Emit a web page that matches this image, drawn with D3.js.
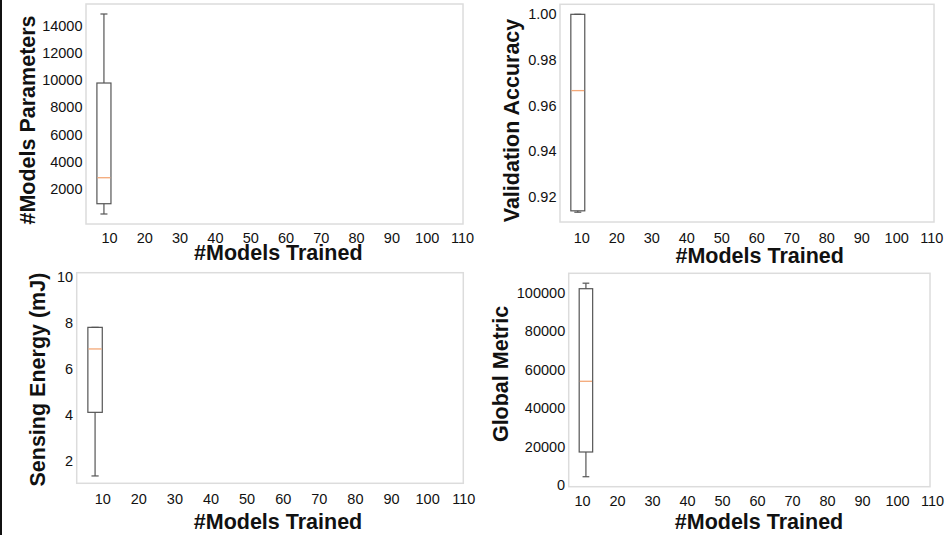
<!DOCTYPE html>
<html>
<head>
<meta charset="utf-8">
<script src="https://cdn.jsdelivr.net/npm/d3@7"></script>
<style>
  html, body { margin: 0; padding: 0; background: #fff; }
  svg { display: block; }
  text { font-family: "Liberation Sans", Arial, sans-serif; fill: #111; }
</style>
</head>
<body>
<svg id="chart" width="949" height="535"></svg>
<script>
// Number of models trained (x categories, shared by all four panels)
const trainedCounts = [10, 20, 30, 40, 50, 60, 70, 80, 90, 100, 110];

// Box statistics at 10 models: [whiskerLow, q1, median, q3, whiskerHigh]
const modelParams   = [163, 918, 2829, 9788, 14860];
const valAccuracy   = [0.9131, 0.9137, 0.9665, 1.0, 1.0];
const sensingEnergy = [1.35, 4.12, 6.88, 7.82, 7.82];
const globalMetric  = [4300, 17160, 53930, 102080, 104950];

// Y-axis limits
const paramLimits  = [-572, 15595];
const accLimits    = [0.9088, 1.0044];
const energyLimits = [1.03, 10.2];
const metricLimits = [-884, 110088];

// Y tick values
const paramTicks  = [2000, 4000, 6000, 8000, 10000, 12000, 14000];
const accTicks    = [0.92, 0.94, 0.96, 0.98, 1.00];
const energyTicks = [2, 4, 6, 8, 10];
const metricTicks = [0, 20000, 40000, 60000, 80000, 100000];

const panels = [
  { stats: modelParams, limits: paramLimits, ticks: paramTicks, fmt: d3.format("d"),
    ylabel: "#Models Parameters", left: 86, right: 463, top: 4, bottom: 224,
    xLab0: 109, xLabStep: 35.3, xPad: 8.5, yLabX: 35, yLabY: 120, xLabX: 278.3, xLabBase: 260.3 },
  { stats: valAccuracy, limits: accLimits, ticks: accTicks, fmt: d3.format(".2f"),
    ylabel: "Validation Accuracy", left: 560, right: 934, top: 4.3, bottom: 222,
    xLab0: 581.2, xLabStep: 35, xPad: 11, yLabX: 518.7, yLabY: 120.5, xLabX: 759.7, xLabBase: 263.3 },
  { stats: sensingEnergy, limits: energyLimits, ticks: energyTicks, fmt: d3.format("d"),
    ylabel: "Sensing Energy (mJ)", left: 76.7, right: 463.3, top: 272.7, bottom: 483.3,
    xLab0: 102.2, xLabStep: 36.1, xPad: 10.2, yLabX: 45.4, yLabY: 379.6, xLabX: 278, xLabBase: 529.3 },
  { stats: globalMetric, limits: metricLimits, ticks: metricTicks, fmt: d3.format("d"),
    ylabel: "Global Metric", left: 568.7, right: 930, top: 273.3, bottom: 486.7,
    xLab0: 582, xLabStep: 35, xPad: 9.4, yLabX: 508.3, yLabY: 374, xLabX: 759, xLabBase: 529.3 }
];

const svg = d3.select("#chart");

// thin dark rule along the left edge
svg.append("rect").attr("x", 0).attr("y", 0).attr("width", 2).attr("height", 535).attr("fill", "#111");

panels.forEach(p => {
  const g = svg.append("g");

  const x = d3.scaleBand().domain(trainedCounts).range([p.left, p.right]).paddingInner(0).paddingOuter(0);
  const y = d3.scaleLinear().domain(p.limits).range([p.bottom, p.top]);
  const xLabels = d3.scalePoint().domain(trainedCounts)
    .range([p.xLab0, p.xLab0 + p.xLabStep * (trainedCounts.length - 1)]);

  // plot frame
  g.append("rect")
    .attr("x", p.left).attr("y", p.top)
    .attr("width", p.right - p.left).attr("height", p.bottom - p.top)
    .attr("fill", "none").attr("stroke", "#dcdcdc").attr("stroke-width", 1.5);

  // y axis
  const ya = g.append("g").attr("transform", `translate(${p.left},0)`)
    .call(d3.axisLeft(y).tickValues(p.ticks).tickFormat(p.fmt).tickSize(0).tickPadding(3.5));
  ya.select(".domain").remove();
  ya.selectAll("text").attr("font-size", 14.5).attr("font-family", "Liberation Sans, Arial, sans-serif").attr("fill", "#111");

  // x axis labels
  const xa = g.append("g").attr("transform", `translate(0,${p.bottom})`)
    .call(d3.axisBottom(xLabels).tickSize(0).tickPadding(p.xPad));
  xa.select(".domain").remove();
  xa.selectAll("text").attr("font-size", 14.5).attr("font-family", "Liberation Sans, Arial, sans-serif").attr("fill", "#111");

  // box plot at 10 models trained
  const [wLo, q1, med, q3, wHi] = p.stats;
  const cx = x(trainedCounts[0]) + x.bandwidth() / 2 + 0.8;
  const bw = x.bandwidth() * 0.41;
  const stroke = "#555";

  g.append("rect")
    .attr("x", cx - bw / 2).attr("y", y(q3))
    .attr("width", bw).attr("height", y(q1) - y(q3))
    .attr("fill", "none").attr("stroke", stroke).attr("stroke-width", 1.2);

  const seg = (x1, y1, x2, y2, col, w) => g.append("line")
    .attr("x1", x1).attr("y1", y1).attr("x2", x2).attr("y2", y2)
    .attr("stroke", col).attr("stroke-width", w);

  // whiskers and caps
  seg(cx, y(q1), cx, y(wLo), stroke, 1.2);
  seg(cx - bw / 4, y(wLo), cx + bw / 4, y(wLo), stroke, 1.2);
  seg(cx, y(q3), cx, y(wHi), stroke, 1.2);
  seg(cx - bw / 4, y(wHi), cx + bw / 4, y(wHi), stroke, 1.2);

  // median
  seg(cx - bw / 2 + 0.6, y(med), cx + bw / 2 - 0.6, y(med), "#f4a878", 1.3);

  // axis titles
  g.append("text")
    .attr("transform", `translate(${p.yLabX},${p.yLabY}) rotate(-90)`)
    .attr("text-anchor", "middle")
    .attr("font-size", 21.5).attr("font-weight", "bold")
    .text(p.ylabel);

  g.append("text")
    .attr("x", p.xLabX).attr("y", p.xLabBase)
    .attr("text-anchor", "middle")
    .attr("font-size", 21.5).attr("font-weight", "bold")
    .text("#Models Trained");
});
</script>
</body>
</html>
